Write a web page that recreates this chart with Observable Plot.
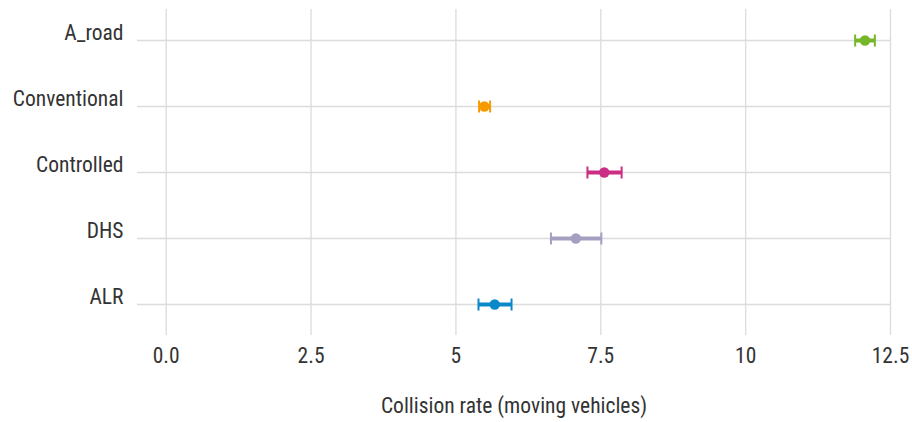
<!DOCTYPE html>
<html>
<head>
<meta charset="utf-8">
<script src="https://cdn.jsdelivr.net/npm/d3@7"></script>
<script src="https://cdn.jsdelivr.net/npm/@observablehq/plot@0.6"></script>
<style>
  html, body { margin: 0; padding: 0; background: #fff; }
  #chart svg { display: block; }
  #chart svg text { font-stretch: condensed; }
</style>
</head>
<body>
<div id="chart"></div>
<script>
const categories = ["A_road", "Conventional", "Controlled", "DHS", "ALR"];
const rates = [12.06, 5.49, 7.56, 7.07, 5.67];
const lower = [11.89, 5.40, 7.27, 6.64, 5.39];
const upper = [12.23, 5.59, 7.86, 7.51, 5.96];
const colors = ["#76b72a", "#f59b00", "#cc2d85", "#a3a0c2", "#0a88c8"];
const xTicks = [0, 2.5, 5, 7.5, 10, 12.5];
const xTickLabels = ["0.0", "2.5", "5", "7.5", "10", "12.5"];
const xTitle = "Collision rate (moving vehicles)";

const data = categories.map((c, i) => ({cat: c, rate: rates[i], lo: lower[i], hi: upper[i], color: colors[i]}));
const capSymbol = {
  draw(context, size) {
    const h = Math.sqrt(size / Math.PI);
    context.moveTo(0, -h);
    context.lineTo(0, h);
  }
};
const font = "'Roboto Condensed', 'Liberation Sans Narrow', 'DejaVu Sans Condensed', sans-serif";
const fs = 21.5;

const chart = Plot.plot({
  width: 912,
  height: 422,
  marginLeft: 137,
  marginRight: 22,
  marginTop: 9,
  marginBottom: 87,
  style: {fontFamily: font, fontSize: fs + "px", color: "#333", background: "#fff"},
  x: {domain: [-0.495, 12.5]},
  y: {type: "point", domain: categories, padding: 0.438},
  marks: [
    Plot.gridX(xTicks, {stroke: "#dcdcdc", strokeOpacity: 1, strokeWidth: 1.3}),
    Plot.gridY(categories, {stroke: "#dcdcdc", strokeOpacity: 1, strokeWidth: 1.3}),
    Plot.axisX(xTicks, {tickSize: 0, tickPadding: 12, tickFormat: (d) => xTickLabels[xTicks.indexOf(d)], fontSize: fs, label: xTitle, labelAnchor: "center", labelOffset: 77, labelArrow: "none"}),
    Plot.axisY({tickSize: 0, tickPadding: 14, dy: -7, fontSize: fs, label: null}),
    Plot.link(data, {x1: "lo", x2: "hi", y1: "cat", y2: "cat", stroke: (d) => d.color, strokeWidth: 4}),
    Plot.dot(data, {x: "lo", y: "cat", symbol: capSymbol, r: 6, stroke: (d) => d.color, strokeWidth: 2, fill: "none"}),
    Plot.dot(data, {x: "hi", y: "cat", symbol: capSymbol, r: 6, stroke: (d) => d.color, strokeWidth: 2, fill: "none"}),
    Plot.dot(data, {x: "rate", y: "cat", r: 5.2, fill: (d) => d.color, stroke: "none"})
  ]
});
document.getElementById("chart").append(chart);
</script>
</body>
</html>
